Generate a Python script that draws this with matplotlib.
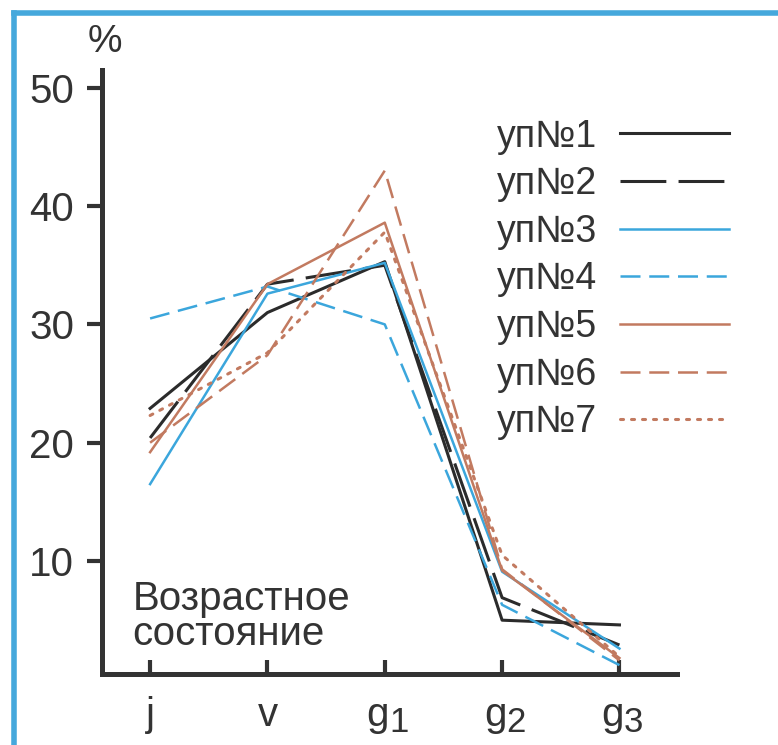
import matplotlib
matplotlib.use("Agg")
import matplotlib.pyplot as plt
from matplotlib.lines import Line2D

plt.rcParams['font.family'] = ['Liberation Sans', 'DejaVu Sans']

# age states (letter + index)
state_letters = ['j', 'v', 'g', 'g', 'g']
state_index = ['', '', '1', '2', '3']

# percent by age state for each plot
up1 = [22.9, 31.0, 35.3, 5.0, 4.6]
up2 = [20.4, 33.4, 35.0, 6.9, 2.9]
up3 = [16.5, 32.6, 35.2, 9.1, 2.6]
up4 = [30.5, 33.2, 30.0, 6.3, 1.2]
up5 = [19.2, 33.4, 38.6, 9.2, 1.8]
up6 = [20.0, 27.4, 43.0, 9.3, 1.6]
up7 = [22.3, 27.6, 37.8, 10.5, 1.9]

labels = ['уп№1', 'уп№2', 'уп№3', 'уп№4', 'уп№5', 'уп№6', 'уп№7']
yticks = [10, 20, 30, 40, 50]

black = '#2b2b2b'
blue = '#3ba6dc'
brown = '#c27a60'
ink = '#333333'

fig = plt.figure(figsize=(7.78, 7.45), dpi=100)
ax = fig.add_axes([0.1311, 0.0953, 0.739, 0.8107])

x = list(range(len(state_letters)))
ax.plot(x, up1, color=black, lw=2.2, label=labels[0])
ax.plot(x, up2, color=black, lw=2.2, dashes=(15, 4), label=labels[1])
ax.plot(x, up3, color=blue, lw=1.8, label=labels[2])
ax.plot(x, up4, color=blue, lw=1.8, dashes=(8, 3.5), label=labels[3])
ax.plot(x, up5, color=brown, lw=1.8, label=labels[4])
ax.plot(x, up6, color=brown, lw=1.8, dashes=(8, 3.5), label=labels[5])
ax.plot(x, up7, color=brown, lw=2.2, dashes=(1, 2.6), dash_capstyle='round', label=labels[6])

ax.set_xlim(-0.41, 4.49)
ax.set_ylim(0.45, 51.5)

for s in ['top', 'right']:
    ax.spines[s].set_visible(False)
for s in ['left', 'bottom']:
    ax.spines[s].set_linewidth(3.6)
    ax.spines[s].set_color(ink)

ax.set_yticks(yticks)
ax.set_yticklabels([str(v) for v in yticks])
ax.tick_params(axis='y', direction='out', length=11, width=3, color=ink,
               labelsize=29, labelcolor=ink, pad=9)
ax.set_xticks(x)
ax.set_xticklabels([''] * len(x))
ax.tick_params(axis='x', direction='in', length=10, width=3, color=ink)

# x labels with big lowered indices
tr = ax.get_xaxis_transform()
for i, (let, idx) in enumerate(zip(state_letters, state_index)):
    if idx:
        ax.annotate(let, (i, 0), xycoords=tr, xytext=(3, -16), textcoords='offset points',
                    ha='right', va='top', fontsize=29, color=ink)
        ax.annotate(idx, (i, 0), xycoords=tr, xytext=(3, -23), textcoords='offset points',
                    ha='left', va='top', fontsize=25, color=ink)
    else:
        ax.annotate(let, (i, 0), xycoords=tr, xytext=(0, -16), textcoords='offset points',
                    ha='center', va='top', fontsize=29, color=ink)

ax.text(-0.15, 2.2, 'Возрастное\nсостояние', fontsize=29, color=ink,
        linespacing=0.92, ha='left', va='bottom')
fig.text(0.113, 0.92, '%', fontsize=28, color=ink, ha='left', va='bottom')

leg = ax.legend(loc='upper left', bbox_to_anchor=(0.615, 0.866),
                bbox_transform=fig.transFigure, frameon=False,
                markerfirst=False, fontsize=27, handlelength=2.9,
                handletextpad=0.6, labelspacing=0.31, borderpad=0)
for t in leg.get_texts():
    t.set_color(ink)

# light blue frame, left and top edges
frame = '#45a8dc'
fig.add_artist(Line2D([14 / 778, 14 / 778], [0, 1 - 13 / 745], transform=fig.transFigure,
                      color=frame, lw=4))
fig.add_artist(Line2D([14 / 778, 1], [1 - 13 / 745, 1 - 13 / 745], transform=fig.transFigure,
                      color=frame, lw=4))

fig.savefig('out.png', dpi=100)
